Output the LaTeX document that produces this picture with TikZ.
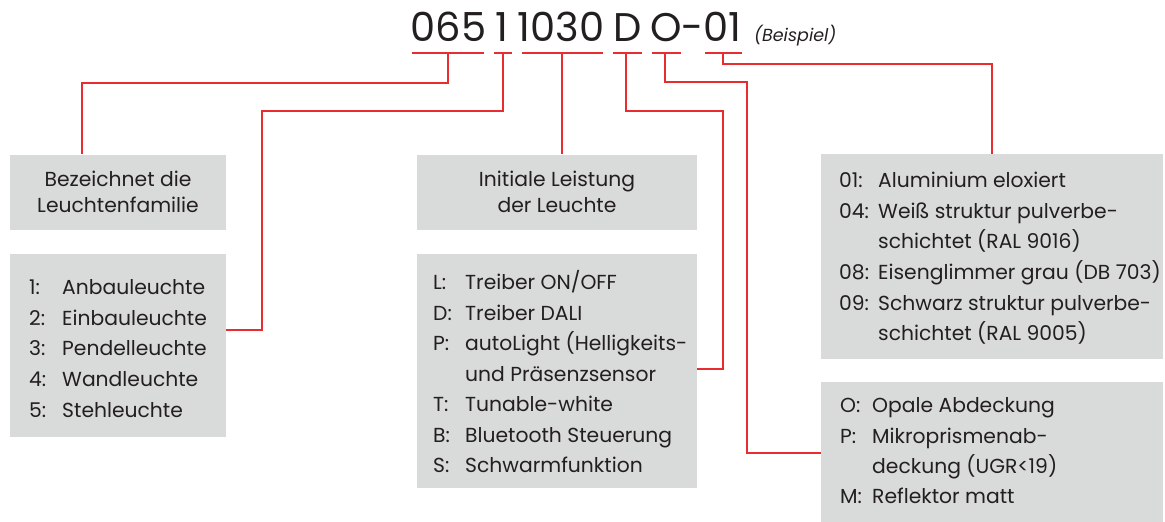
\documentclass[tikz,border=0pt]{standalone}
\usepackage{fontspec}
\setmainfont{Poppins}
\definecolor{lred}{RGB}{232,45,48}
\definecolor{boxgray}{RGB}{217,218,218}
\definecolor{txt}{RGB}{35,31,32}
\begin{document}
\begin{tikzpicture}[x=1pt,y=-1pt,
  box/.style={fill=boxgray, draw=none, inner sep=0pt, text=txt, align=center,
              font=\fontsize{20.3}{26}\selectfont},
  conn/.style={draw=lred, line width=1.3pt},
  code/.style={anchor=base, inner sep=0pt, text=txt, font=\fontsize{40}{48}\selectfont},
  lbl/.style={anchor=base west, inner sep=0pt, text=txt, font=\fontsize{20.3}{24}\selectfont},
]
\useasboundingbox (0,0) rectangle (1165,522);

% title (code groups)
\node[code] (c1) at (448.5,41) {065};
\node[code] (c2) at (502,41) {1};
\node[code] (c3) at (561,41) {1030};
\node[code] (c4) at (627.5,41) {D};
\node[code] (c5) at (696,41) {O-01};
\node[anchor=base west, inner sep=0pt, text=txt, font=\fontsize{17.5}{20}\selectfont\itshape] (bsp) at (754,41) {(Beispiel)};

% boxes
\node[box, minimum width=216pt, minimum height=75pt] (b1) at (118,192) {Bezeichnet die\\Leuchtenfamilie};
\node[box, minimum width=280pt, minimum height=75pt] (b2) at (557,192) {Initiale Leistung\\der Leuchte};
\node[box, minimum width=216pt, minimum height=183pt] (b3) at (118,345.5) {};
\node[box, minimum width=280pt, minimum height=234pt] (b4) at (557,371) {};
\node[box, minimum width=342pt, minimum height=205pt] (b5) at (992,256.5) {};
\node[box, minimum width=342pt, minimum height=140pt] (b6) at (992,452) {};

% list 1
\node[lbl] (l1a) at (29,294) {1:};  \node[lbl] (t1a) at (62,294) {Anbauleuchte};
\node[lbl] (l1b) at (29,325) {2:};  \node[lbl] (t1b) at (62,325) {Einbauleuchte};
\node[lbl] (l1c) at (29,355) {3:};  \node[lbl] (t1c) at (62,355) {Pendelleuchte};
\node[lbl] (l1d) at (29,386) {4:};  \node[lbl] (t1d) at (62,386) {Wandleuchte};
\node[lbl] (l1e) at (29,417) {5:};  \node[lbl] (t1e) at (62,417) {Stehleuchte};

% list L
\node[lbl] (l2a) at (433,289) {L:}; \node[lbl] (t2a) at (465,289) {Treiber ON/OFF};
\node[lbl] (l2b) at (433,320) {D:}; \node[lbl] (t2b) at (465,320) {Treiber DALI};
\node[lbl] (l2c) at (433,350) {P:}; \node[lbl] (t2c) at (465,350) {autoLight (Helligkeits-};
\node[lbl] (t2d) at (465,381) {und Präsenzsensor};
\node[lbl] (l2e) at (433,411) {T:}; \node[lbl] (t2e) at (465,411) {Tunable-white};
\node[lbl] (l2f) at (433,442) {B:}; \node[lbl] (t2f) at (465,442) {Bluetooth Steuerung};
\node[lbl] (l2g) at (433,472) {S:}; \node[lbl] (t2g) at (465,472) {Schwarmfunktion};

% list 01
\node[lbl] (l3a) at (839,187) {01:}; \node[lbl] (t3a) at (878,187) {Aluminium eloxiert};
\node[lbl] (l3b) at (839,218) {04:}; \node[lbl] (t3b) at (878,218) {Weiß struktur pulverbe-};
\node[lbl] (t3c) at (878,248) {schichtet (RAL 9016)};
\node[lbl] (l3d) at (839,279) {08:}; \node[lbl] (t3d) at (878,279) {Eisenglimmer grau (DB 703)};
\node[lbl] (l3e) at (839,310) {09:}; \node[lbl] (t3e) at (878,310) {Schwarz struktur pulverbe-};
\node[lbl] (t3f) at (878,340) {schichtet (RAL 9005)};

% list O
\node[lbl] (l4a) at (840,412) {O:}; \node[lbl] (t4a) at (872,412) {Opale Abdeckung};
\node[lbl] (l4b) at (840,443) {P:}; \node[lbl] (t4b) at (872,443) {Mikroprismenab-};
\node[lbl] (t4c) at (872,473) {deckung (UGR<19)};
\node[lbl] (l4d) at (840,503) {M:}; \node[lbl] (t4d) at (872,503) {Reflektor matt};

% underlines
\draw[conn] (412,53) -- (484,53);
\draw[conn] (494,53) -- (512,53);
\draw[conn] (522,53) -- (603,53);
\draw[conn] (613,53) -- (642,53);
\draw[conn] (652,53) -- (681,53);
\draw[conn] (705,53) -- (742,53);

% connector points
\coordinate (u1) at (448,53);
\coordinate (u2) at (503,53);
\coordinate (u3) at (562,53);
\coordinate (u4) at (626,53);
\coordinate (u5) at (665,53);
\coordinate (u6) at (723,53);
\coordinate (k1) at (82,83);
\coordinate (k2) at (262,111);
\coordinate (e2) at (226,330);
\coordinate (k4) at (723,111);
\coordinate (e4) at (697,369);
\coordinate (k5) at (747,82);
\coordinate (e5) at (821,453);
\coordinate (k6) at (992,64);

\draw[conn] (u1) |- (k1) -- (k1 |- b1.north);
\draw[conn] (u2) |- (k2) |- (e2);
\draw[conn] (u3) -- (u3 |- b2.north);
\draw[conn] (u4) |- (k4) |- (e4);
\draw[conn] (u5) |- (k5) |- (e5);
\draw[conn] (u6) |- (k6) -- (b5.north);
\end{tikzpicture}
\end{document}
